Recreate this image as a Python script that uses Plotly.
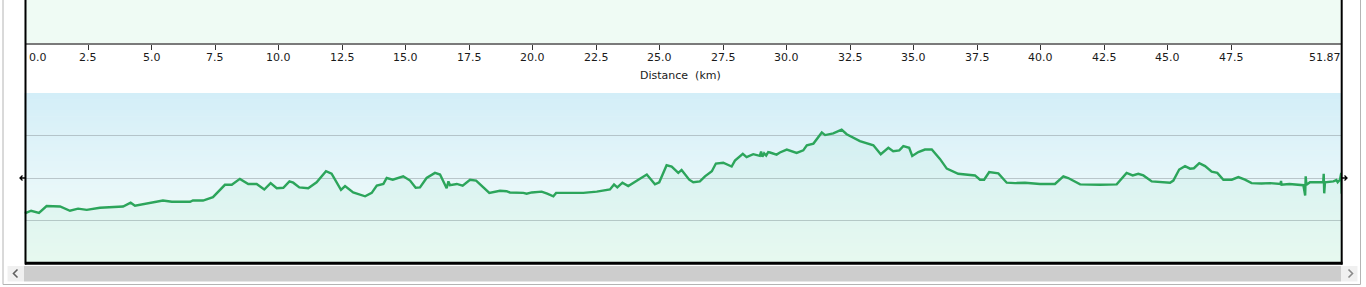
import plotly.graph_objects as go

W, H = 1366, 287


def px(x):
    return x / W


def py(y):
    return 1 - y / H


# ---------------- data ----------------
distance_km = [
    0.00, 0.06, 0.26, 0.57, 0.87, 1.40, 1.79, 2.11, 2.45, 2.97, 3.88, 4.18, 4.35, 4.81,
    5.45, 5.80, 6.52, 6.63, 7.03, 7.42, 7.89, 8.16, 8.48, 8.81, 9.14, 9.44, 9.69, 9.93,
    10.19, 10.43, 10.58, 10.82, 11.17, 11.50, 11.87, 12.09, 12.46, 12.62, 12.94, 13.41,
    13.67, 13.87, 14.13, 14.26, 14.50, 14.91, 15.18, 15.40, 15.57, 15.83, 16.16, 16.36,
    16.56, 16.62, 16.69, 16.75, 17.02, 17.25, 17.54, 17.78, 18.30, 18.72, 18.98, 19.11,
    19.64, 19.77, 19.97, 20.36, 20.58, 20.82, 20.93, 21.35, 21.67, 22.00, 22.53, 22.85,
    23.05, 23.21, 23.34, 23.54, 23.77, 24.23, 24.50, 24.82, 24.99, 25.28, 25.48, 25.74,
    25.87, 26.17, 26.33, 26.59, 26.79, 27.06, 27.22, 27.51, 27.84, 27.97, 28.28, 28.43,
    28.69, 28.95, 29.00, 29.05, 29.12, 29.20, 29.28, 29.35, 29.61, 29.74, 30.01, 30.40,
    30.66, 30.80, 31.06, 31.39, 31.52, 31.84, 32.17, 32.37, 32.89, 33.42, 33.71, 34.01,
    34.20, 34.44, 34.60, 34.83, 34.95, 35.19, 35.45, 35.72, 36.04, 36.31, 36.76, 37.42,
    37.62, 37.78, 37.98, 38.34, 38.67, 39.00, 39.39, 39.98, 40.57, 40.90, 41.09, 41.56,
    42.34, 43.00, 43.39, 43.63, 43.85, 44.05, 44.38, 45.10, 45.23, 45.46, 45.69, 45.89,
    46.04, 46.25, 46.48, 46.74, 46.96, 47.20, 47.53, 47.79, 48.05, 48.31, 48.70, 49.04,
    49.45, 49.47, 49.49, 49.80, 50.10, 50.35, 50.42, 50.44, 50.47, 50.61, 50.90, 51.13,
    51.15, 51.17, 51.20, 51.40, 51.53, 51.65, 51.70, 51.79, 51.84, 51.86, 51.87,
]
elevation_m = [
    120, 118, 123, 118, 134, 133, 123, 128, 125, 130, 133, 142, 135, 140,
    147, 144, 144, 147, 147, 155, 184, 184, 198, 186, 186, 173, 188, 176,
    177, 192, 189, 178, 176, 190, 216, 210, 172, 181, 166, 157,
    165, 182, 186, 200, 196, 204, 194, 177, 178, 200, 212, 208,
    186, 176, 192, 183, 186, 182, 196, 194, 165, 170, 169, 166,
    165, 163, 166, 168, 163, 157, 165, 165, 164, 165, 168, 172,
    173, 185, 178, 189, 181, 198, 208, 185, 190, 230, 227, 212,
    219, 196, 190, 192, 204, 216, 234, 236, 227, 241, 257, 249,
    256, 252, 262, 250, 258, 253, 261, 260, 255, 260, 267, 259,
    265, 277, 281, 307, 301, 305, 314, 303, 287, 277, 256, 271,
    263, 265, 275, 271, 252, 261, 267, 267, 245, 222, 210, 206,
    196, 196, 214, 211, 189, 188, 189, 186, 186, 204, 200, 185,
    184, 185, 212, 206, 210, 206, 192, 189, 194, 220, 228, 222,
    223, 235, 228, 215, 212, 196, 196, 202, 196, 188, 187, 188,
    186, 193, 184, 186, 185, 183, 159, 204, 184, 190, 190, 190,
    210, 164, 190, 191, 192, 195, 190, 196, 212, 163, 196,
]

total_km = 51.87
tick_vals = [2.5, 5.0, 7.5, 10.0, 12.5, 15.0, 17.5, 20.0, 22.5, 25.0,
             27.5, 30.0, 32.5, 35.0, 37.5, 40.0, 42.5, 45.0, 47.5]
tick_text = [f"{v:.1f}" for v in tick_vals]
start_label = "0.0"
end_label = "51.87"
axis_title = "Distance\u00a0 (km)"
elev_range = [0, 400]
grid_vals = [100, 200, 300]

FONT = "DejaVu Sans"
X_DOMAIN = [px(24.5), px(1342)]

fig = go.Figure()

fig.add_trace(go.Scatter(
    x=distance_km, y=elevation_m, mode="lines",
    line=dict(color="#2ca55b", width=2.4),
    fill="tozeroy", fillcolor="rgba(80,215,150,0.07)",
    hoverinfo="skip", xaxis="x", yaxis="y",
))
# invisible trace so the top (distance) axis renders
fig.add_trace(go.Scatter(
    x=[0, total_km], y=[0, 1], mode="markers",
    marker=dict(opacity=0), hoverinfo="skip", xaxis="x2", yaxis="y2",
))

shapes = []
# vertical gradient background of the elevation panel
top_c = (211, 238, 248)
mid_c = (230, 246, 249)
bot_c = (242, 252, 246)
N = 50
for i in range(N):
    t = (i + 0.5) / N  # 0 bottom, 1 top
    if t < 0.5:
        a, b, f = bot_c, mid_c, t / 0.5
    else:
        a, b, f = mid_c, top_c, (t - 0.5) / 0.5
    c = tuple(round(a[k] + (b[k] - a[k]) * f) for k in range(3))
    shapes.append(dict(
        type="rect", xref="x domain", yref="y domain",
        x0=0, x1=1, y0=i / N, y1=min(1, (i + 1.15) / N),
        fillcolor=f"rgb{c}", line=dict(width=0), layer="below",
    ))

# chart frame (black borders)
shapes += [
    dict(type="line", xref="paper", yref="paper", x0=px(25.5), x1=px(25.5),
         y0=py(264.5), y1=1, line=dict(color="black", width=2)),
    dict(type="line", xref="paper", yref="paper", x0=px(1341.7), x1=px(1341.7),
         y0=py(264.5), y1=1, line=dict(color="black", width=2)),
    dict(type="line", xref="paper", yref="paper", x0=px(25), x1=px(1342.5),
         y0=py(263.3), y1=py(263.3), line=dict(color="black", width=3)),
]
# small side arrows
shapes += [
    dict(type="path", xref="paper", yref="paper",
         path=f"M{px(25)},{py(178)} L{px(20)},{py(178)} M{px(22.5)},{py(175.5)} L{px(20)},{py(178)} L{px(22.5)},{py(180.5)}",
         line=dict(color="black", width=1.3)),
    dict(type="path", xref="paper", yref="paper",
         path=f"M{px(1342)},{py(178)} L{px(1347)},{py(178)} M{px(1344.5)},{py(175.5)} L{px(1347)},{py(178)} L{px(1344.5)},{py(180.5)}",
         line=dict(color="black", width=1.3)),
]
# scrollbar and outer window frame
shapes += [
    dict(type="rect", xref="paper", yref="paper", x0=px(3), x1=px(1360.5),
         y0=py(284.5), y1=1.05, line=dict(color="#b4b4b4", width=1), fillcolor="rgba(0,0,0,0)",
         layer="below"),
    dict(type="rect", xref="paper", yref="paper", x0=px(7.5), x1=px(24), y0=py(281.5), y1=py(266),
         fillcolor="#f0f0f0", line=dict(width=0), layer="below"),
    dict(type="rect", xref="paper", yref="paper", x0=px(1341), x1=px(1357.5), y0=py(281.5), y1=py(266),
         fillcolor="#f0f0f0", line=dict(width=0), layer="below"),
    dict(type="rect", xref="paper", yref="paper", x0=px(24), x1=px(1341), y0=py(281.5), y1=py(266),
         fillcolor="#cdcdcd", line=dict(width=0), layer="below"),
    dict(type="path", xref="paper", yref="paper",
         path=f"M{px(17.5)},{py(269.5)} L{px(13.5)},{py(273.5)} L{px(17.5)},{py(277.5)}",
         line=dict(color="#606060", width=1.6)),
    dict(type="path", xref="paper", yref="paper",
         path=f"M{px(1348.5)},{py(269.5)} L{px(1352.5)},{py(273.5)} L{px(1348.5)},{py(277.5)}",
         line=dict(color="#8a8a8a", width=1.6)),
]

tick_font = dict(family=FONT, size=11, color="#1a1a1a")
LABEL_Y = py(57)
annotations = [
    dict(text=start_label, x=0, xref="x2", y=LABEL_Y, yref="paper",
         xanchor="left", yanchor="middle", xshift=2, showarrow=False, font=tick_font),
    dict(text=end_label, x=total_km, xref="x2", y=LABEL_Y, yref="paper",
         xanchor="right", yanchor="middle", xshift=1, showarrow=False, font=tick_font),
    dict(text=axis_title, x=px(680), xref="paper", y=py(75), yref="paper",
         xanchor="center", yanchor="middle", showarrow=False, font=tick_font),
]
for v, t in zip(tick_vals, tick_text):
    annotations.append(dict(text=t, x=v, xref="x2", y=LABEL_Y, yref="paper",
                            xanchor="center", yanchor="middle", showarrow=False,
                            font=tick_font))

fig.update_layout(
    width=W, height=H,
    margin=dict(l=0, r=0, t=0, b=0),
    paper_bgcolor="white",
    plot_bgcolor="#effbf4",
    showlegend=False,
    xaxis=dict(domain=X_DOMAIN, range=[0, total_km], anchor="y",
               showgrid=False, zeroline=False, showticklabels=False,
               ticks="", showline=False, fixedrange=True),
    yaxis=dict(domain=[py(263), py(93)], range=elev_range, anchor="x",
               tickvals=grid_vals, showgrid=True,
               gridcolor="rgba(140,150,155,0.5)", gridwidth=1.3,
               showticklabels=False, ticks="", zeroline=False, showline=False,
               fixedrange=True),
    xaxis2=dict(domain=X_DOMAIN, range=[0, total_km], anchor="y2",
                tickvals=tick_vals, showticklabels=False,
                ticks="outside", ticklen=5, tickwidth=1, tickcolor="#333333",
                showline=True, linecolor="#7a7a7a", linewidth=2,
                showgrid=False, zeroline=False,
                fixedrange=True),
    yaxis2=dict(domain=[py(43), 1], range=[0, 1], anchor="x2", visible=False,
                fixedrange=True),
    shapes=shapes,
    annotations=annotations,
)

fig.write_html("out.html", config={"displayModeBar": False})
